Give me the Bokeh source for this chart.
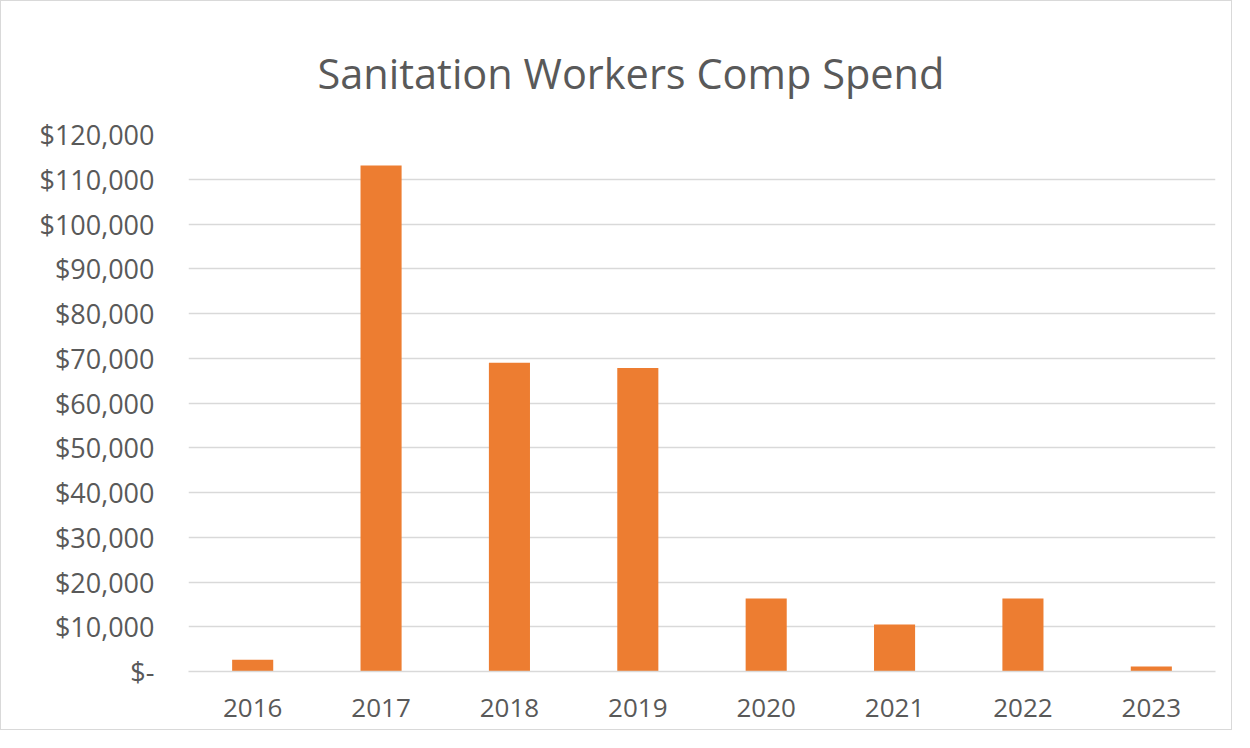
from bokeh.plotting import figure
from bokeh.models import FixedTicker, CustomJSTickFormatter, Title, ColumnDataSource
from bokeh.embed import file_html
from bokeh.resources import INLINE

years = ["2016", "2017", "2018", "2019", "2020", "2021", "2022", "2023"]
spend = [2600, 113100, 69000, 67800, 16300, 10500, 16300, 1100]
y_ticks = list(range(0, 120001, 10000))
title_text = "Sanitation Workers Comp Spend"

src = ColumnDataSource(dict(year=years, spend=spend))

p = figure(x_range=years, y_range=(0, 120000), width=1232, height=730,
           output_backend="svg", toolbar_location=None,
           min_border_left=187, min_border_right=18, min_border_top=133, min_border_bottom=60)
p.styles = {"border": "1px solid #d9d9d9"}

p.vbar(x="year", top="spend", width=0.32, source=src, color="#ED7D31", line_color=None)

p.x_range.range_padding = 0
p.outline_line_color = None
p.xgrid.grid_line_color = None
p.ygrid.grid_line_color = "#d9d9d9"
p.ygrid.grid_line_width = 1.5

p.yaxis.ticker = FixedTicker(ticks=y_ticks)
p.yaxis.formatter = CustomJSTickFormatter(code="""
return tick == 0 ? "$-" : "$" + tick.toLocaleString("en-US");
""")
p.yaxis.axis_line_color = None
p.yaxis.major_tick_line_color = None
p.yaxis.minor_tick_line_color = None
p.yaxis.major_label_text_font = "Open Sans"
p.yaxis.major_label_text_font_size = "27px"
p.yaxis.major_label_text_color = "#595959"
p.yaxis.major_label_standoff = 28

p.xaxis.axis_line_color = "#d9d9d9"
p.xaxis.axis_line_width = 1.5
p.xaxis.major_tick_line_color = None
p.xaxis.minor_tick_line_color = None
p.xaxis.major_label_text_font = "Open Sans"
p.xaxis.major_label_text_font_size = "26px"
p.xaxis.major_label_text_color = "#595959"
p.xaxis.major_label_standoff = 21

t = Title(text=title_text, align="left", text_font="Open Sans", text_font_size="41.5px",
          text_font_style="normal", text_color="#595959", offset=129, standoff=68)
p.add_layout(t, "above")

open("out.html", "w").write(file_html(p, INLINE))
